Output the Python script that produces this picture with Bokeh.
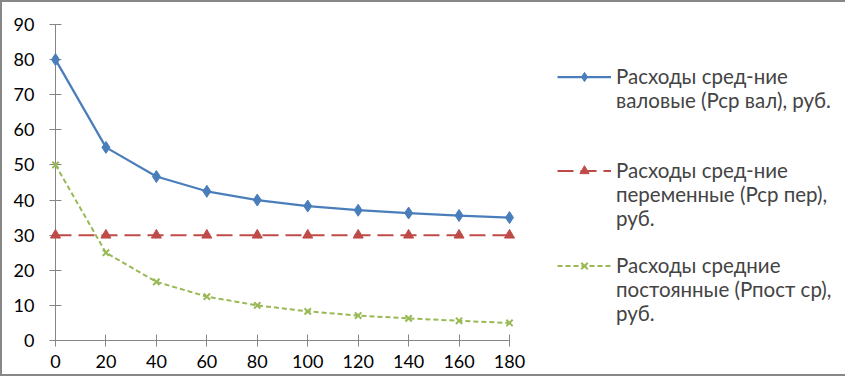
from bokeh.plotting import figure
from bokeh.models import Range1d, FixedTicker, Legend, LegendItem
from bokeh.embed import file_html
from bokeh.resources import INLINE

# ---- data ----
volumes = [0, 20, 40, 60, 80, 100, 120, 140, 160, 180]
gross_avg = [80, 55, 46.7, 42.5, 40, 38.3, 37.1, 36.3, 35.6, 35]
variable_avg = [30, 30, 30, 30, 30, 30, 30, 30, 30, 30]
fixed_avg = [50, 25, 16.7, 12.5, 10, 8.3, 7.1, 6.3, 5.6, 5]
y_ticks = [0, 10, 20, 30, 40, 50, 60, 70, 80, 90]
legend_lines = [
    ["Расходы сред-ние", "валовые (Рср вал), руб."],
    ["Расходы сред-ние", "переменные (Рср пер),", "руб."],
    ["Расходы средние", "постоянные (Рпост ср),", "руб."],
]
spacers_after = [2, 1]

BLUE = "#4A7EBB"
RED = "#BE4B48"
GREEN = "#98B954"
AXIS = "#868686"
FONT = "Lato"

p = figure(frame_width=454, frame_height=316, output_backend="svg",
           toolbar_location=None, x_range=Range1d(0, 180), y_range=Range1d(0, 90),
           min_border_left=55, min_border_top=24, min_border_bottom=36,
           min_border_right=0)
p.styles = {"box-shadow": "inset 0 0 0 2px #878787", "background-color": "#ffffff"}
p.border_fill_color = None
p.background_fill_color = None
p.outline_line_color = None
p.xgrid.visible = False
p.ygrid.visible = False

for ax in (p.xaxis[0], p.yaxis[0]):
    ax.axis_line_color = AXIS
    ax.major_tick_line_color = AXIS
    ax.minor_tick_line_color = None
    ax.major_tick_in = 6
    ax.major_tick_out = 6
    ax.major_label_text_font = FONT
    ax.major_label_text_font_size = "18px"
    ax.major_label_text_color = "#000000"
p.xaxis.ticker = FixedTicker(ticks=volumes)
p.yaxis.ticker = FixedTicker(ticks=y_ticks)
p.xaxis.major_label_standoff = 8
p.yaxis.major_label_standoff = 15

l1 = p.line(volumes, gross_avg, line_color=BLUE, line_width=2.25, level="overlay")
m1 = p.scatter(volumes, gross_avg, marker="diamond", size=12, fill_color=BLUE,
               line_color=BLUE, level="overlay")
l2 = p.line(volumes, variable_avg, line_color=RED, line_width=2, line_dash="16 7",
            level="overlay")
m2 = p.scatter(volumes, variable_avg, marker="triangle", size=10, fill_color=RED,
               line_color=RED, level="overlay")
l3 = p.line(volumes, fixed_avg, line_color=GREEN, line_width=2, line_dash="5 3",
            level="overlay")
m3 = p.scatter(volumes, fixed_avg, marker="x", size=9, line_color=GREEN,
               line_width=2, level="overlay")
# invisible renderer used for legend continuation lines and spacers
ghost = p.line(volumes, fixed_avg, line_alpha=0)

series_renderers = [[l1, m1], [l2, m2], [l3, m3]]
items = []
for k, (lines, rs) in enumerate(zip(legend_lines, series_renderers)):
    items.append(LegendItem(label=lines[0], renderers=rs))
    for extra in lines[1:]:
        items.append(LegendItem(label=extra, renderers=[ghost]))
    if k < len(spacers_after):
        for j in range(spacers_after[k]):
            items.append(LegendItem(label=" " * (j + 1 + 3 * k), renderers=[ghost]))

legend = Legend(items=items, location=(48, 15), border_line_color=None,
                background_fill_alpha=0, glyph_width=54, glyph_height=23,
                label_height=23, label_width=261, label_standoff=5, spacing=0,
                label_text_font=FONT, label_text_font_size="20.5px",
                label_text_line_height=1.0, padding=0, margin=0)
p.add_layout(legend, "right")

open("out.html", "w").write(file_html(p, INLINE))
